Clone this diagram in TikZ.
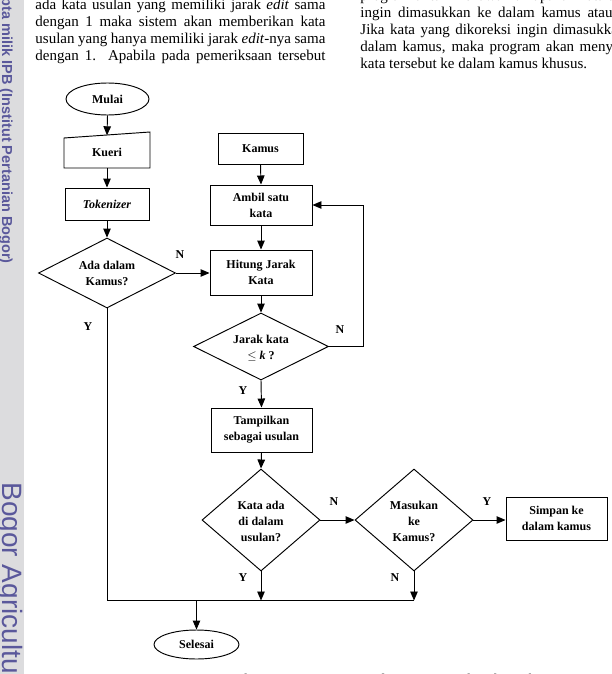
\documentclass[tikz,border=0pt]{standalone}
\usepackage{fontspec}
\setmainfont{Liberation Serif}
\newfontfamily\wmfont{Liberation Sans}
\usetikzlibrary{shapes.geometric,arrows.meta}
\definecolor{wmgrey}{RGB}{220,220,222}
\definecolor{wmtext}{RGB}{90,88,155}
\begin{document}
\begin{tikzpicture}[x=1pt,y=-1pt,
  line width=0.95pt,
  fc/.style={font=\fontsize{12}{16}\selectfont\bfseries, align=center, inner sep=0pt},
  box/.style={fc, draw, rectangle},
  dia/.style={draw, diamond, inner sep=0pt},
  term/.style={fc, draw, ellipse},
  lbl/.style={font=\fontsize{12}{14}\selectfont\bfseries, inner sep=0pt},
  arr/.style={-{Triangle[length=9pt,width=7.5pt]}},
  txt/.style={font=\fontsize{15}{17}\selectfont, inner sep=0pt, anchor=base west},
  wm/.style={text=wmtext, inner sep=0pt, anchor=base west, rotate=-90}
]
\useasboundingbox (0,0) rectangle (611,674);
\clip (0,0) rectangle (611,674);
\fill[white] (0,0) rectangle (611,674);

% watermark strip
\fill[wmgrey] (0,0) rectangle (24,674);
\node[wm, font=\wmfont\fontsize{14.5}{16}\selectfont\bfseries] (wm1) at (2,23) {\llap{Hak cipta }milik IPB (Institut Pertanian Bogor)};
\node[wm, font=\wmfont\fontsize{28}{30}\selectfont] (wm2) at (2,482) {Bogor Agricultural University};

% page text, left column
\node[txt] (l1) at (35,10) {\makebox[290pt][s]{ada kata usulan yang memiliki jarak \textit{edit} sama}};
\node[txt] (l2) at (35,27) {\makebox[290pt][s]{dengan 1 maka sistem akan memberikan kata}};
\node[txt] (l3) at (35,44) {\makebox[290pt][s]{usulan yang hanya memiliki jarak \textit{edit}-nya sama}};
\node[txt] (l4) at (35,61) {\makebox[290pt][s]{dengan 1. Apabila pada pemeriksaan tersebut}};
% right column
\node[txt] (r1) at (360,1) {program untuk menawarkan apakah kata tersebut};
\node[txt] (r2) at (360,18) {\makebox[252pt][s]{ingin dimasukkan ke dalam kamus atau}};
\node[txt] (r3) at (360,35) {\makebox[265pt][s]{Jika kata yang dikoreksi ingin dimasukkan}};
\node[txt] (r4) at (360,52) {\makebox[290pt][s]{dalam kamus, maka program akan menyimpan}};
\node[txt] (r5) at (360,69) {kata tersebut ke dalam kamus khusus.};
% caption (mostly cut off)
\node[txt, text=black!80] (cap) at (215,684) {\makebox[338pt][s]{Gambar 3 Diagram alir sistem koreksi kata}};

% flowchart nodes
\node[term, minimum width=83pt, minimum height=32pt] (mulai) at (107.5,99) {Mulai};
\draw (64,138) -- (150,132) -- (150,168) -- (64,168) -- cycle;
\node[fc] (kueri) at (107,152) {Kueri};
\coordinate (kueritop) at (107,135.3);
\coordinate (kueribot) at (107,168);
\node[box, minimum width=84pt, minimum height=32pt] (tok) at (107,204) {\textit{Tokenizer}};
\node[dia, minimum width=137pt, minimum height=70pt] (ada) at (107,273) {};
\node[fc] (adat) at (ada.center) {Ada dalam\\Kamus?};

\node[box, minimum width=85pt, minimum height=31pt] (kamus) at (260.5,148.5) {Kamus};
\node[box, minimum width=102pt, minimum height=40pt] (ambil) at (261,205) {Ambil satu\\kata};
\node[box, minimum width=102pt, minimum height=45pt] (hitung) at (261,272.5) {Hitung Jarak\\Kata};
\node[dia, minimum width=135pt, minimum height=67pt] (jarak) at (261,346.5) {};
\node[fc] (jarakt) at (261,348) {Jarak kata\\$\leq$ \textit{k} ?};
\node[box, minimum width=101pt, minimum height=44pt] (tampil) at (261.5,430) {Tampilkan\\sebagai usulan};
\node[dia, minimum width=118pt, minimum height=102pt] (kata) at (261,520) {};
\node[fc] (katat) at (261,521) {Kata ada\\di dalam\\usulan?};
\node[dia, minimum width=118pt, minimum height=102pt] (masuk) at (414,520) {};
\node[fc] (masukt) at (414,521) {Masukan\\ke\\Kamus?};
\node[box, minimum width=101pt, minimum height=43pt] (simpan) at (556.5,518.5) {Simpan ke\\dalam kamus};
\node[term, minimum width=85pt, minimum height=29pt] (selesai) at (196.5,644.5) {Selesai};

\coordinate (loopc) at (363,0);
\coordinate (jl) at (107,600.5);
\coordinate (jr) at (414,600.5);

% connectors
\draw[arr] (mulai.south) -- (kueritop);
\draw[arr] (kueribot) -- (tok.north);
\draw[arr] (tok.south) -- (ada.north);
\draw[arr] (ada.east) -- (hitung.west |- ada.east);
\draw[arr] (kamus.south) -- (ambil.north);
\draw[arr] (ambil.south) -- (hitung.north);
\draw[arr] (hitung.south) -- (jarak.north);
\draw[arr] (jarak.east) -- (jarak.east -| loopc) |- (ambil.east);
\draw[arr] (jarak.south) -- (tampil.north);
\draw[arr] (tampil.south) -- (kata.north);
\draw[arr] (kata.east) -- (masuk.west);
\draw[arr] (masuk.east) -- (simpan.west |- masuk.east);
\draw (ada.south) -- (jl) -- (jr);
\draw[arr] (kata.south) -- (kata.south |- jl);
\draw[arr] (masuk.south) -- (jr);
\draw[arr] (selesai.north |- jl) -- (selesai.north);

% branch labels
\node[lbl] (n1) at (180,255) {N};
\node[lbl] (y1) at (88,327) {Y};
\node[lbl] (n2) at (340,330) {N};
\node[lbl] (y2) at (243,391) {Y};
\node[lbl] (n3) at (334,502) {N};
\node[lbl] (y3) at (487,502) {Y};
\node[lbl] (y4) at (243,578) {Y};
\node[lbl] (n4) at (395,578) {N};
\end{tikzpicture}
\end{document}
